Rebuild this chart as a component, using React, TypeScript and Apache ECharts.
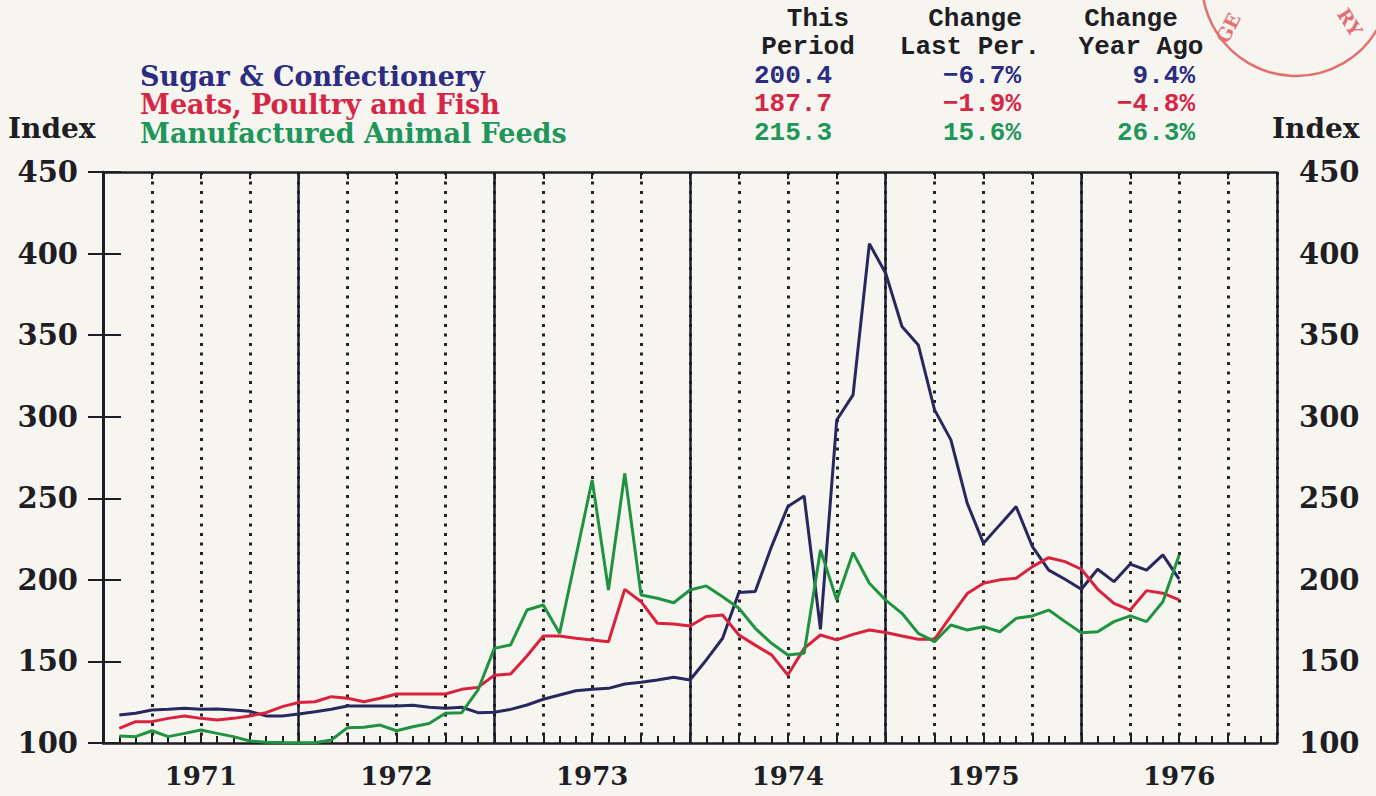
import React, { useEffect, useRef } from "react";
import * as echarts from "echarts";

// Years shown under the axis (each band = 12 months)
const years = ["1971", "1972", "1973", "1974", "1975", "1976"];

// Monthly index values, Jan 1971 .. Jun 1976 (plotted at month ends)
const sugar = [
  117.2, 118.2, 120.2, 120.7, 121.3, 120.7, 120.8, 120.2, 119.4, 116.6, 116.6, 117.8,
  119.2, 120.7, 122.7, 122.7, 122.7, 122.7, 123.1, 121.9, 121.3, 121.9, 118.6, 118.8,
  120.6, 123.3, 126.8, 129.4, 132.0, 132.9, 133.5, 136.2, 137.2, 138.6, 140.3, 138.6,
  150.9, 164.2, 192.2, 192.8, 220.4, 244.9, 251.4, 169.7, 298.0, 313.4, 406.0, 388.0,
  355.3, 344.0, 304.2, 285.8, 247.0, 222.4, 233.7, 244.9, 220.4, 206.0, 200.4, 194.2,
  206.5, 198.9, 209.7, 206.0, 215.3, 200.4,
];
const meats = [
  109.0, 113.1, 113.1, 115.1, 116.6, 115.1, 114.1, 115.1, 116.6, 118.6, 122.3, 124.8,
  125.3, 128.4, 127.4, 125.3, 127.4, 130.0, 130.0, 130.0, 130.0, 132.9, 134.1, 141.5,
  142.3, 153.3, 165.6, 165.6, 164.2, 163.2, 162.1, 194.2, 186.6, 173.4, 173.0, 171.7,
  177.5, 178.5, 166.2, 160.0, 154.0, 141.7, 158.0, 166.2, 163.2, 166.6, 169.3, 167.7,
  165.6, 163.6, 163.6, 177.7, 191.6, 197.9, 200.0, 201.0, 208.1, 213.6, 211.2, 206.5,
  194.2, 185.6, 181.5, 193.4, 191.8, 187.7,
];
const feeds = [
  104.3, 103.9, 107.5, 103.9, 105.9, 108.0, 105.9, 103.9, 101.2, 100.5, 100.3, 100.2,
  100.2, 101.8, 109.4, 109.6, 111.0, 107.5, 110.0, 112.0, 118.2, 118.6, 132.5, 158.0,
  160.1, 181.5, 184.6, 167.2, 214.2, 261.2, 193.8, 265.3, 190.7, 188.7, 186.0, 193.8,
  196.3, 189.7, 182.6, 170.3, 161.1, 154.0, 155.0, 218.3, 187.7, 216.7, 197.9, 187.6,
  179.5, 167.2, 162.1, 172.3, 169.3, 171.3, 168.2, 176.4, 177.9, 181.5, 174.4, 167.6,
  168.2, 174.4, 177.9, 174.4, 186.6, 215.3,
];

const seriesNames = ["Sugar & Confectionery", "Meats, Poultry and Fish", "Manufactured Animal Feeds"];
const thisPeriod = ["200.4", "187.7", "215.3"];
const changeLastPer = ["\u22126.7%", "\u22121.9%", "15.6%"];
const changeYearAgo = ["9.4%", "\u22124.8%", "26.3%"];

const lineColors = ["#28285e", "#d8223e", "#1f9440"];
const textColors = ["#2c2c82", "#d62646", "#20965a"];

const SERIF = '"DejaVu Serif"';
const MONO = '"Liberation Mono"';

export default function App() {
  const ref = useRef<HTMLDivElement>(null);

  useEffect(() => {
    if (!ref.current) return;
    const chart = echarts.init(ref.current, undefined, { renderer: "svg" });
    const toPts = (arr: number[]) => arr.map((v, i) => [i + 1, v]);
    const rowsY = [76, 104, 133];
    const ink = "#1e1e24";

    const graphics: any[] = [];
    seriesNames.forEach((n, i) => {
      graphics.push({
        type: "text", x: 140, y: rowsY[i],
        style: { text: n, font: `bold 27px ${SERIF}`, fill: textColors[i], textAlign: "left", textVerticalAlign: "middle" },
      });
      graphics.push({
        type: "text", x: 754, y: rowsY[i],
        style: { text: thisPeriod[i], font: `bold 26px ${MONO}`, fill: textColors[i], textAlign: "left", textVerticalAlign: "middle" },
      });
      graphics.push({
        type: "text", x: 1021, y: rowsY[i],
        style: { text: changeLastPer[i], font: `bold 26px ${MONO}`, fill: textColors[i], textAlign: "right", textVerticalAlign: "middle" },
      });
      graphics.push({
        type: "text", x: 1195, y: rowsY[i],
        style: { text: changeYearAgo[i], font: `bold 26px ${MONO}`, fill: textColors[i], textAlign: "right", textVerticalAlign: "middle" },
      });
    });
    const headers: [string, number, number][] = [
      ["This", 818, 19], ["Period", 808, 47],
      ["Change", 975, 19], ["Last Per.", 970, 47],
      ["Change", 1131, 19], ["Year Ago", 1141, 47],
    ];
    headers.forEach(([t, x, y]) =>
      graphics.push({
        type: "text", x, y,
        style: { text: t, font: `bold 26px ${MONO}`, fill: ink, textAlign: "center", textVerticalAlign: "middle" },
      })
    );
    graphics.push({
      type: "text", x: 8, y: 128,
      style: { text: "Index", font: `bold 28px ${SERIF}`, fill: ink, textAlign: "left", textVerticalAlign: "middle" },
    });
    graphics.push({
      type: "text", x: 1272, y: 128,
      style: { text: "Index", font: `bold 28px ${SERIF}`, fill: ink, textAlign: "left", textVerticalAlign: "middle" },
    });
    // library stamp (partial, top-right)
    graphics.push({
      type: "circle", shape: { cx: 1296, cy: -18, r: 94 },
      style: { fill: "none", stroke: "#e46f72", lineWidth: 2.5 }, z: 1,
    });
    graphics.push({
      type: "text", x: 1228, y: 28, rotation: 1.1,
      style: { text: "GE", font: `bold 19px ${SERIF}`, fill: "#e46f72", textAlign: "center", textVerticalAlign: "middle" },
    });
    graphics.push({
      type: "text", x: 1350, y: 22, rotation: -1.0,
      style: { text: "RY", font: `bold 19px ${SERIF}`, fill: "#e46f72", textAlign: "center", textVerticalAlign: "middle" },
    });

    const yAxisCommon = {
      type: "value", min: 100, max: 450, interval: 50,
      axisLine: { show: true, lineStyle: { color: ink, width: 2.5 } },
      axisTick: { show: true, inside: false, length: 15, lineStyle: { color: ink, width: 2 } },
      splitLine: { show: false },
    };

    chart.setOption({
      animation: false,
      backgroundColor: "#f7f5f0",
      grid: { left: 103, top: 172, width: 1174, height: 571 },
      xAxis: [
        {
          type: "value", min: 0, max: 72, interval: 3, position: "bottom",
          axisLine: { show: true, onZero: false, lineStyle: { color: ink, width: 2.5 } },
          axisTick: { show: true, inside: true, length: 8, lineStyle: { color: ink, width: 2 } },
          minorTick: { show: true, splitNumber: 3, length: 7, lineStyle: { color: ink, width: 2 } },
          axisLabel: { show: false },
          splitLine: { show: true, lineStyle: { color: "#222", type: [3, 6.5], width: 3 } },
        },
        {
          type: "category", data: years, position: "bottom", boundaryGap: true,
          axisLine: { show: false }, axisTick: { show: false },
          axisLabel: { interval: 0, margin: 20, fontFamily: "DejaVu Serif", fontWeight: "bold", fontSize: 26, color: ink },
          splitLine: { show: true, interval: 0, lineStyle: { color: "#1c1c30", width: 2.5 } },
        },
        {
          type: "value", min: 0, max: 72, interval: 3, position: "top",
          axisLine: { show: true, onZero: false, lineStyle: { color: ink, width: 2.5 } },
          axisTick: { show: true, inside: true, length: 7, lineStyle: { color: ink, width: 2 } },
          axisLabel: { show: false }, splitLine: { show: false },
        },
      ],
      yAxis: [
        {
          ...yAxisCommon, position: "left",
          axisLabel: { margin: 25, fontFamily: "DejaVu Serif", fontWeight: "bold", fontSize: 29, color: ink },
        },
        {
          ...yAxisCommon, position: "right",
          axisTick: { show: true, inside: false, length: 18, lineStyle: { color: ink, width: 2 } },
          axisLabel: { margin: 22, fontFamily: "DejaVu Serif", fontWeight: "bold", fontSize: 29, color: ink },
        },
      ],
      graphic: graphics,
      series: [sugar, meats, feeds].map((d, i) => ({
        type: "line", name: seriesNames[i], data: toPts(d), xAxisIndex: 0, yAxisIndex: 0,
        symbol: "none", clip: true, z: 3,
        lineStyle: { color: lineColors[i], width: 3 },
      })),
    });
    return () => chart.dispose();
  }, []);

  return (
    <div
      ref={ref}
      style={{ position: "fixed", left: 0, top: 0, width: 1376, height: 796, background: "#f7f5f0" }}
    />
  );
}
